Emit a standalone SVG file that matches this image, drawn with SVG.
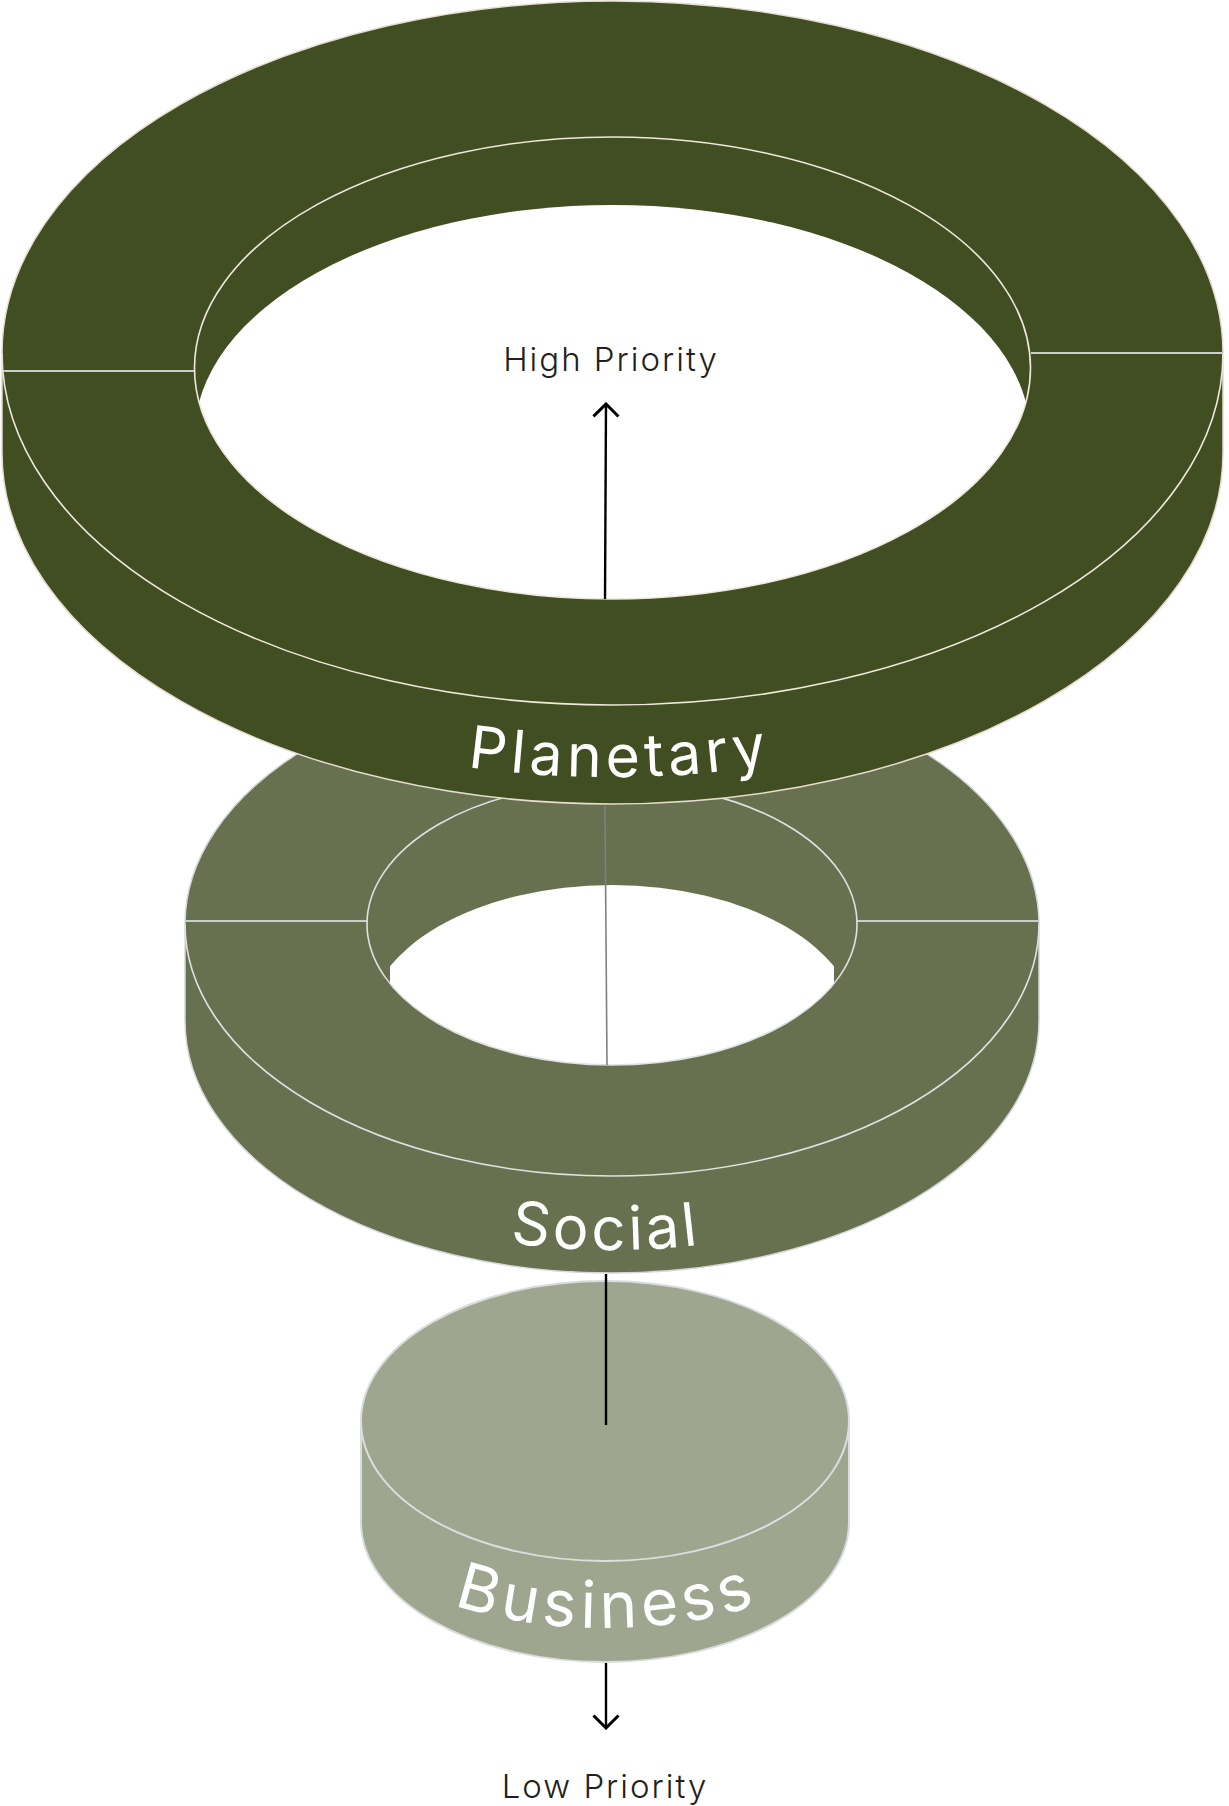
<svg xmlns="http://www.w3.org/2000/svg" width="1229" height="1806" viewBox="0 0 1229 1806">
<style>
.lbl{font-family:Inter,"Noto Sans","Liberation Sans",sans-serif;fill:#ffffff;text-anchor:middle;font-weight:400}
.pri{font-family:Inter,"Noto Sans","Liberation Sans",sans-serif;font-size:33px;fill:#231f20;font-weight:300;letter-spacing:2px;text-anchor:middle}
.conn{stroke:#000;stroke-width:2.4;fill:none}
.pl-body{fill:#414e22;stroke:#e6ddd0;stroke-width:1.5}
.so-body{fill:#67714f;stroke:#d6d9d9;stroke-width:1.5}
.bu-body{fill:#9fa68f;stroke:#d9dcdc;stroke-width:2}
.pl-line{fill:none;stroke:#efe8dc;stroke-width:1.6}
.so-line{fill:none;stroke:#dfe2e2;stroke-width:1.6}
.bu-line{fill:none;stroke:#dcdfdf;stroke-width:2}
.seam{stroke:#c9cdcb;stroke-width:2}
</style>
<defs>
<marker id="chev" viewBox="0 0 16 28" refX="14" refY="14" markerWidth="16" markerHeight="28" markerUnits="userSpaceOnUse" orient="auto">
<path d="M1.5,1.5 L14,14 L1.5,26.5" fill="none" stroke="#000" stroke-width="3"/>
</marker>
<clipPath id="pInner"><ellipse cx="612.5" cy="368" rx="418" ry="231"/></clipPath>
<clipPath id="sInner"><ellipse cx="612" cy="924" rx="245" ry="141"/></clipPath>
<clipPath id="sRect"><rect x="390" y="780" width="444" height="300"/></clipPath>
<path id="pPath" d="M 22,453 A 590 324 0 0 0 1202,453"/>
<path id="sPath" d="M 202,1021 A 410 229 0 0 0 1022,1021"/>
<path id="bPath" d="M 363,1522 A 242 106 0 0 0 847,1522"/>
</defs>

<g id="business">
<path class="bu-body" d="M 361,1421 A 244 140 0 0 1 849,1421 L 849,1522 A 244 140 0 0 1 361,1522 Z"/>
<path class="bu-line" d="M 361,1421 A 244 140 0 0 0 849,1421"/>
<text class="lbl" font-size="64" letter-spacing="5" dx="2"><textPath href="#bPath" startOffset="50%">Business</textPath></text>
</g>

<g id="social">
<path class="so-body" d="M 185,924 A 427 252 0 0 1 1039,924 L 1039,1021 A 427 252 0 0 1 185,1021 Z"/>
<path class="so-line" d="M 185,924 A 427 252 0 0 0 1039,924"/>
<line class="seam" x1="186" y1="921" x2="367" y2="921"/>
<line class="seam" x1="857" y1="921" x2="1038" y2="921"/>
<g clip-path="url(#sRect)"><ellipse cx="612" cy="1026" rx="245" ry="141" fill="#ffffff" clip-path="url(#sInner)"/></g>
<ellipse cx="612" cy="924" rx="245" ry="141" fill="none" stroke="#dfe2e2" stroke-width="1.6"/>
<text class="lbl" font-size="60" letter-spacing="3.5" dx="-6"><textPath href="#sPath" startOffset="50%">Social</textPath></text>
</g>

<g id="planetary">
<path class="pl-body" d="M 2,353 A 610.5 352 0 0 1 1223,353 L 1223,453 A 610.5 351 0 0 1 2,453 Z"/>
<path class="pl-line" d="M 2,353 A 610.5 352 0 0 0 1223,353"/>
<line class="seam" x1="3" y1="371" x2="195" y2="371"/>
<line class="seam" x1="1031" y1="353" x2="1222" y2="353"/>
<ellipse cx="612.5" cy="436" rx="418" ry="231" fill="#ffffff" clip-path="url(#pInner)"/>
<ellipse cx="612.5" cy="368" rx="418" ry="231" fill="none" stroke="#efe8dc" stroke-width="1.6"/>
<text class="lbl" font-size="59" letter-spacing="4.8" dx="8"><textPath href="#pPath" startOffset="50%">Planetary</textPath></text>
</g>

<g id="labels">
<text class="pri" x="611" y="371">High Priority</text>
<text class="pri" x="605" y="1798">Low Priority</text>
</g>

<g id="connectors">
<line class="conn" x1="605" y1="599" x2="606" y2="404" marker-end="url(#chev)"/>
<line x1="605" y1="806" x2="607" y2="1065" stroke="#7f8080" stroke-width="1.6"/>
<line class="conn" x1="606" y1="1274" x2="606" y2="1425"/>
<line class="conn" x1="606" y1="1663" x2="606" y2="1728" marker-end="url(#chev)"/>
</g>
</svg>
